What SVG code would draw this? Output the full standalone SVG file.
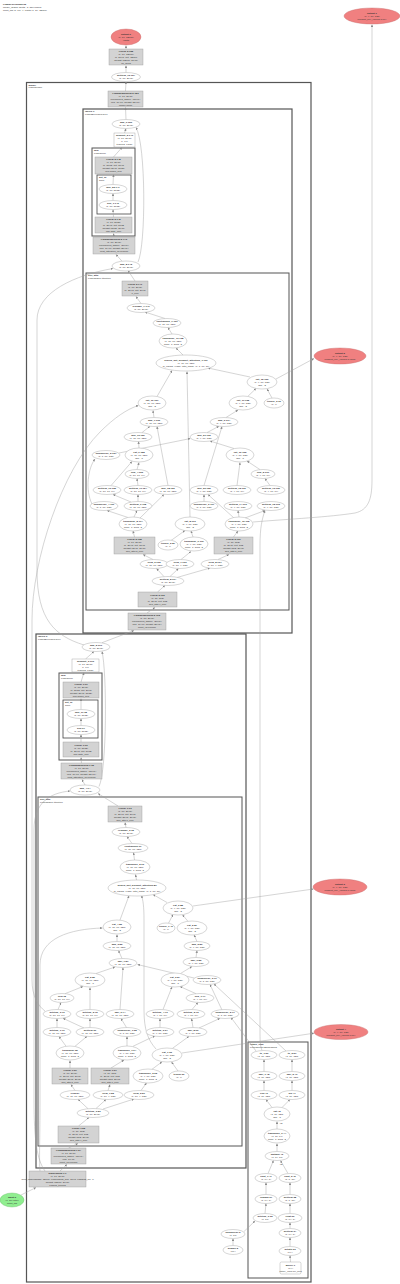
<svg xmlns="http://www.w3.org/2000/svg" width="400" height="1284" viewBox="0 0 400 1284">
<style>
.e{fill:#fff;stroke:#999;stroke-width:.4}
.bx{fill:#d3d3d3;stroke:#999;stroke-width:.4}
.wb{fill:#fff;stroke:#999;stroke-width:.4}
.so{fill:#f08080;stroke:#c87070;stroke-width:.4}
.gi{fill:#90ee90;stroke:#6cbf6c;stroke-width:.4}
.c1{fill:none;stroke:#555;stroke-width:1.2}
.c2{fill:none;stroke:#555;stroke-width:1}
.c3{fill:none;stroke:#444;stroke-width:.8}
.t{font-family:"Liberation Sans",Arial,sans-serif;font-size:2.5px;fill:#333;text-anchor:middle}
.tl{font-family:"Liberation Sans",Arial,sans-serif;font-size:2.5px;fill:#333}
.b{font-weight:bold}
.ed path{fill:none;stroke:#a0a0a0;stroke-width:.45;marker-end:url(#ah)}
</style>
<defs>
<marker id="ah" viewBox="0 0 6 6" refX="6" refY="3" markerWidth="2.4" markerHeight="2.4" markerUnits="userSpaceOnUse" orient="auto"><path d="M0,0L6,3L0,6z" fill="#888"/></marker>
</defs>
<rect width="400" height="1284" fill="#fff"/>
<g id="title"><text class="tl" x="3" y="4.5"><tspan class="b">LlamaForCausalLM</tspan><tspan x="3" dy="3">model_graph: depth=3, 151 nodes</tspan><tspan x="3" dy="3">input_ids (1, 16) → logits (1, 16, 32000)</tspan></text></g>

<g id="clusters">
<rect class="c1" x="26.5" y="82.5" width="284.5" height="1199.5"/>
<text class="tl" x="28.5" y="85.6"><tspan class="b">model</tspan><tspan x="28.5" dy="2.8">LlamaModel</tspan></text>
<rect class="c1" x="83" y="109" width="209" height="524"/>
<text class="tl" x="85" y="111.8"><tspan class="b">layers.1</tspan><tspan x="85" dy="2.8">LlamaDecoderLayer</tspan></text>
<rect class="c2" x="92" y="148" width="43" height="88"/>
<text class="tl" x="94" y="150.8"><tspan class="b">mlp</tspan><tspan x="94" dy="2.8">LlamaMLP</tspan></text>
<rect class="c3" x="97" y="175" width="34" height="39"/>
<text class="tl" x="99" y="177.8"><tspan class="b">act_fn</tspan><tspan x="99" dy="2.8">SiLU</tspan></text>
<rect class="c2" x="86" y="273" width="203" height="337"/>
<text class="tl" x="88" y="275.8"><tspan class="b">self_attn</tspan><tspan x="88" dy="2.8">LlamaSdpaAttention</tspan></text>
<rect class="c1" x="36" y="634" width="210" height="534"/>
<text class="tl" x="38" y="636.8"><tspan class="b">layers.0</tspan><tspan x="38" dy="2.8">LlamaDecoderLayer</tspan></text>
<rect class="c2" x="59" y="673" width="43" height="87"/>
<text class="tl" x="61" y="675.8"><tspan class="b">mlp</tspan><tspan x="61" dy="2.8">LlamaMLP</tspan></text>
<rect class="c3" x="63" y="700" width="35" height="38"/>
<text class="tl" x="65" y="702.8"><tspan class="b">act_fn</tspan><tspan x="65" dy="2.8">SiLU</tspan></text>
<rect class="c2" x="38" y="797" width="204" height="349"/>
<text class="tl" x="40" y="799.8"><tspan class="b">self_attn</tspan><tspan x="40" dy="2.8">LlamaSdpaAttention</tspan></text>
<rect class="c2" x="248" y="1042" width="60" height="236"/>
<text class="tl" x="250" y="1044.8"><tspan class="b">rotary_emb</tspan><tspan x="250" dy="2.8">LlamaRotaryEmbedding</tspan></text>
</g>

<g id="edges" class="ed">
<path d="M126 49L126 45.5"/>
<path d="M126 72.5L126 65.5"/>
<path d="M125.5 91L126 82"/>
<path d="M126 119.5L125.5 107.5"/>
<path d="M124.5 133L126 128.5"/>
<path d="M113.5 157L122 147.5"/>
<path d="M113 184.5L113.5 174.5"/>
<path d="M113 200.5L113 193.5"/>
<path d="M113.5 217L113 209.5"/>
<path d="M114 237L113.5 233.5"/>
<path d="M122 261.2L116 254.5"/>
<path d="M138 262C146 245,146 145,136 127.5"/>
<path d="M135 281L128 270.5"/>
<path d="M84 645C55 636,37 620,37 570L37 320C37 292,75 275,113 268.5"/>
<path d="M141 303.5L136 296.5"/>
<path d="M165 318.5L145 312"/>
<path d="M172 334L168 327.5"/>
<path d="M183 355L176 348"/>
<path d="M250 377L208 368"/>
<path d="M276 379L314 358.5"/>
<path d="M157 396.5L172 370.5"/>
<path d="M248 396.2L256 388.5"/>
<path d="M272 398L267 389"/>
<path d="M154 417.5L153 410.5"/>
<path d="M226 417.5L238 410"/>
<path d="M142 432.6L150 426.2"/>
<path d="M207 432.6L219 426.2"/>
<path d="M119 453L190.5 438.5"/>
<path d="M139 448L138.5 441.5"/>
<path d="M234 448.5L210 441"/>
<path d="M137 469.5L139 462.5"/>
<path d="M260 469.6L247 461"/>
<path d="M111 485.6L132 461.5"/>
<path d="M138 485.5L137 478.5"/>
<path d="M168 485.5L157 426.5"/>
<path d="M204 485.5L222 426.5"/>
<path d="M237 485.5L240 462.5"/>
<path d="M270 485.5L265 478.5"/>
<path d="M92 504C85 490,88 468,95 459"/>
<path d="M138 501.5L138 494.5"/>
<path d="M131 502L113 494.5"/>
<path d="M204 501.5L204 494.5"/>
<path d="M128 517.5L107 510.5"/>
<path d="M134 517L137 510.5"/>
<path d="M140 518L164 494.5"/>
<path d="M239 517L238 510.5"/>
<path d="M245 518L265 510.5"/>
<path d="M234 518L208 494.5"/>
<path d="M190 517L187 371.5"/>
<path d="M171 540.5L185 530.5"/>
<path d="M193 537L191 531"/>
<path d="M134.5 537L133 531"/>
<path d="M233.5 537L238 531"/>
<path d="M153 559.5L143 554.5"/>
<path d="M181 559.5L191 551.5"/>
<path d="M218 559.5L229 554.5"/>
<path d="M164 576.6L156.5 568.5"/>
<path d="M170 576.5L178.5 568.5"/>
<path d="M177 577.5L210 568"/>
<path d="M157.5 592L165 585.5"/>
<path d="M147 613L155 607.5"/>
<path d="M102 642.7L134 630.5"/>
<path d="M253 522C290 519,330 517,355 513C368 510,372 500,372 480L372 24.5"/>
<path d="M262 1050.5C260 1045,260 1040,260 1030L260 545C260 528,262 519,265 510.5"/>
<path d="M85.5 659L94 651.5"/>
<path d="M81 682L84 672.5"/>
<path d="M81 709.5L81 698.5"/>
<path d="M81 725.5L81 718.5"/>
<path d="M81 742L81 734.5"/>
<path d="M81.5 763L81 757.5"/>
<path d="M85 785L82 779.5"/>
<path d="M99 786.5C107 770,107 672,102 651.5"/>
<path d="M118 806L98 793.5"/>
<path d="M45 1171C37 1160,34 1140,34 1100L34 830C34 802,50 793,70 791"/>
<path d="M40 1171C39 1160,40 1140,40 1100L40 965C40 938,70 929,102.5 928"/>
<path d="M45 1011C38 1006,32 996,32 980L32 620C32 560,62 470,100 432C114 418,127 409,138.5 405.5"/>
<path d="M126 827.5L125 822.5"/>
<path d="M132 843.5L127 836.5"/>
<path d="M134.5 860L133.5 852.5"/>
<path d="M136.5 880L135.5 874.5"/>
<path d="M167 902.5L153 894.5"/>
<path d="M193 906L313.5 889"/>
<path d="M120 920L129 895.7"/>
<path d="M168.5 923.2L173 914.5"/>
<path d="M188 921.4L182.5 914.8"/>
<path d="M117 941.5L117 934.5"/>
<path d="M197 941.5L194 935"/>
<path d="M122 958.5L118.5 950.5"/>
<path d="M196 957.5L197 950.5"/>
<path d="M96 973.5L115 967"/>
<path d="M180.5 973.5L192 966.5"/>
<path d="M194 978L137.5 964.5"/>
<path d="M65 993.7L83 986.5"/>
<path d="M196 993.7L180 986.5"/>
<path d="M58 1009.5L61 1002.5"/>
<path d="M90 1009.5L90 987.5"/>
<path d="M120 1009.5L123 967.5"/>
<path d="M163 1009.5L172 987"/>
<path d="M192 1009.5L198 1002.5"/>
<path d="M222 1010L210 984.5"/>
<path d="M57 1027.5L57 1018.5"/>
<path d="M90 1027.5L90 1018.5"/>
<path d="M84 1028L63 1018.3"/>
<path d="M126.5 1027.5L121 1018.5"/>
<path d="M160 1027.5L160 1018.5"/>
<path d="M193 1027.5L191.5 1018.5"/>
<path d="M199 1028L220 1018.3"/>
<path d="M66 1046.2L59 1036.5"/>
<path d="M75 1046.3L87 1036.3"/>
<path d="M127 1046L127 1036.5"/>
<path d="M133 1046.3L155 1035.8"/>
<path d="M172.5 1048.3L189 1036.3"/>
<path d="M156 1049C148 1040,144 1030,144 1010L144 920C144 906,143 900,141.5 895.5"/>
<path d="M182 1053L314 1033.2"/>
<path d="M70 1068L70 1060.5"/>
<path d="M111 1068L124 1060"/>
<path d="M152 1069.3L162 1061.8"/>
<path d="M178 1071L171.5 1062"/>
<path d="M75 1090.5L71 1084.5"/>
<path d="M108 1090.5L110 1084.5"/>
<path d="M141 1090.5L146.5 1083"/>
<path d="M88 1108.7L78 1099.3"/>
<path d="M96 1108.5L106 1099.5"/>
<path d="M103 1109L134 1099"/>
<path d="M78.5 1126L89 1117.5"/>
<path d="M68.5 1148L78 1143.5"/>
<path d="M60 1171L67 1164.5"/>
<path d="M21 1195L36 1187.5"/>
<path d="M264 1071.5L264 1059.5"/>
<path d="M292 1071.5L292 1059.5"/>
<path d="M264 1090.5L264 1080.5"/>
<path d="M292 1090.5L292 1080.5"/>
<path d="M272 1107.5L266 1099.5"/>
<path d="M282 1107.5L290 1099.5"/>
<path d="M277 1129L277 1121.5"/>
<path d="M277 1151.5L277 1143.5"/>
<path d="M268 1173.5L273.5 1160.5"/>
<path d="M288 1173.5L280.5 1160.5"/>
<path d="M266 1194.5L266 1182.5"/>
<path d="M290 1194.5L290 1182.5"/>
<path d="M265 1213.5L266 1203.5"/>
<path d="M290 1213.5L290 1203.5"/>
<path d="M290 1228.5L290 1222.5"/>
<path d="M290 1246.5L290 1237.5"/>
<path d="M290.5 1262L290 1255.5"/>
<path d="M244 1231.5L255 1221"/>
<path d="M233 1245.5L233 1238.5"/>
<path d="M256 1051L231 1017.5"/>
<path d="M286 1051L214 984"/>
</g>
<g id="edge-labels">
<text class="t" x="281" y="1123.5">x2</text>
<text class="t" x="281" y="1164.5">x2</text>
</g>

<g id="o1"><ellipse class="so" cx="372" cy="16" rx="28" ry="8"/><text class="t" x="372" y="13.9"><tspan class="b">output 1</tspan><tspan x="372" dy="3">(1, 4, 16, 128)</tspan><tspan x="372" dy="3">present_key_values.1.key</tspan></text></g>
<g id="o0"><ellipse class="so" cx="126" cy="37" rx="15" ry="8"/><text class="t" x="126" y="34.9"><tspan class="b">output 0</tspan><tspan x="126" dy="3">(1, 16, 32000)</tspan><tspan x="126" dy="3">logits</tspan></text></g>
<g id="lm_head"><rect class="bx" x="109" y="49" width="34" height="16"/><text class="t" x="126" y="51.9"><tspan class="b">Linear 2.155</tspan><tspan x="126" dy="3">(1, 16, 32000)</tspan><tspan x="126" dy="3">in=2048, out=32000</tspan><tspan x="126" dy="3">weight (32000, 2048)</tspan><tspan x="126" dy="3">lm_head</tspan></text></g>
<g id="getitem16"><ellipse class="e" cx="126" cy="77" rx="14.5" ry="4.5"/><text class="t" x="126" y="76.4"><tspan class="b">getitem_16.154</tspan><tspan x="126" dy="3">(1, 16, 2048)</tspan></text></g>
<g id="norm"><rect class="bx" x="108" y="91" width="35" height="16"/><text class="t" x="125.5" y="93.9"><tspan class="b">LlamaRMSNorm 2.153</tspan><tspan x="125.5" dy="3">(1, 16, 2048)</tspan><tspan x="125.5" dy="3">normalized_shape=(2048,)</tspan><tspan x="125.5" dy="3">eps=1e-06, weight (2048,)</tspan><tspan x="125.5" dy="3">model.norm</tspan></text></g>

<g id="L1add0"><ellipse class="e" cx="126" cy="124" rx="14" ry="4.5"/><text class="t" x="126" y="123.4"><tspan class="b">add_9.150</tspan><tspan x="126" dy="3">(1, 16, 2048)</tspan></text></g>
<g id="L1drop"><rect class="wb" x="114" y="133" width="21" height="14"/><text class="t" x="124.5" y="136.4"><tspan class="b">dropout_5.149</tspan><tspan x="124.5" dy="3">(1, 16, 2048)</tspan><tspan x="124.5" dy="3">p=0.0</tspan><tspan x="124.5" dy="3">training=False</tspan></text></g>
<g id="L1down"><rect class="bx" x="95" y="157" width="37" height="17"/><text class="t" x="113.5" y="160.4"><tspan class="b">Linear 2.148</tspan><tspan x="113.5" dy="3">(1, 16, 2048)</tspan><tspan x="113.5" dy="3">in=5632, out=2048</tspan><tspan x="113.5" dy="3">weight (2048, 5632)</tspan><tspan x="113.5" dy="3">mlp.down_proj</tspan></text></g>
<g id="L1mul"><ellipse class="e" cx="113" cy="189" rx="14" ry="4.5"/><text class="t" x="113" y="188.4"><tspan class="b">mul_22.147</tspan><tspan x="113" dy="3">(1, 16, 5632)</tspan></text></g>
<g id="L1silu"><ellipse class="e" cx="113" cy="205" rx="14" ry="4.5"/><text class="t" x="113" y="204.4"><tspan class="b">silu_1.146</tspan><tspan x="113" dy="3">(1, 16, 5632)</tspan></text></g>
<g id="L1gate"><rect class="bx" x="95" y="217" width="37" height="16"/><text class="t" x="113.5" y="219.9"><tspan class="b">Linear 2.145</tspan><tspan x="113.5" dy="3">(1, 16, 5632)</tspan><tspan x="113.5" dy="3">in=2048, out=5632</tspan><tspan x="113.5" dy="3">weight (5632, 2048)</tspan><tspan x="113.5" dy="3">mlp.gate_proj</tspan></text></g>
<g id="L1ln2"><rect class="bx" x="93" y="237" width="42" height="17"/><text class="t" x="114" y="240.4"><tspan class="b">LlamaRMSNorm 2.143</tspan><tspan x="114" dy="3">(1, 16, 2048)</tspan><tspan x="114" dy="3">normalized_shape=(2048,)</tspan><tspan x="114" dy="3">eps=1e-06, weight (2048,)</tspan><tspan x="114" dy="3">post_attention_layernorm</tspan></text></g>
<g id="L1add1"><ellipse class="e" cx="126" cy="266" rx="14" ry="5"/><text class="t" x="126" y="265.4"><tspan class="b">add_8.142</tspan><tspan x="126" dy="3">(1, 16, 2048)</tspan></text></g>

<g id="A1"><rect class="bx" x="122" y="281" width="26" height="15"/><text class="t" x="135" y="284.9"><tspan class="b">Linear 2.141</tspan><tspan x="135" dy="3">(1, 16, 2048)</tspan><tspan x="135" dy="3">in=2048, out=2048</tspan><tspan x="135" dy="3">o_proj</tspan></text></g>
<g id="A2"><ellipse class="e" cx="141" cy="308" rx="14" ry="4.5"/><text class="t" x="141" y="307.4"><tspan class="b">reshape_7.140</tspan><tspan x="141" dy="3">(1, 16, 2048)</tspan></text></g>
<g id="A3"><ellipse class="e" cx="167" cy="323" rx="14" ry="4.5"/><text class="t" x="167" y="322.4"><tspan class="b">contiguous_1.139</tspan><tspan x="167" dy="3">(1, 16, 16, 128)</tspan></text></g>
<g id="A4"><ellipse class="e" cx="173" cy="341" rx="14" ry="7"/><text class="t" x="173" y="338.9"><tspan class="b">transpose_11.138</tspan><tspan x="173" dy="3">(1, 16, 16, 128)</tspan><tspan x="173" dy="3">dim0=1, dim1=2</tspan></text></g>
<g id="A5"><ellipse class="e" cx="186" cy="363" rx="30" ry="8"/><text class="t" x="186" y="360.9"><tspan class="b">scaled_dot_product_attention_1.137</tspan><tspan x="186" dy="3">(1, 16, 16, 128)</tspan><tspan x="186" dy="3">is_causal=False, attn_mask=(1, 1, 16, 16)</tspan></text></g>
<g id="A6"><ellipse class="e" cx="262" cy="382" rx="15" ry="7"/><text class="t" x="262" y="379.9"><tspan class="b">cat_12.136</tspan><tspan x="262" dy="3">(1, 4, 16, 128)</tspan><tspan x="262" dy="3">dim=-2</tspan></text></g>
<g id="A7"><ellipse class="e" cx="152" cy="403" rx="14" ry="7"/><text class="t" x="152" y="400.9"><tspan class="b">cat_10.131</tspan><tspan x="152" dy="3">(1, 16, 16, 128)</tspan><tspan x="152" dy="3">dim=-2</tspan></text></g>
<g id="A8"><ellipse class="e" cx="243" cy="403" rx="14" ry="7"/><text class="t" x="243" y="400.9"><tspan class="b">cat_11.135</tspan><tspan x="243" dy="3">(1, 4, 16, 128)</tspan><tspan x="243" dy="3">dim=-2</tspan></text></g>
<g id="A9"><ellipse class="e" cx="274" cy="403" rx="10" ry="5"/><text class="t" x="274" y="402.4"><tspan class="b">tensor_3.96</tspan><tspan x="274" dy="3">(1, 4)</tspan></text></g>
<g id="A10"><ellipse class="e" cx="154" cy="422" rx="14" ry="4.5"/><text class="t" x="154" y="421.4"><tspan class="b">add_7.130</tspan><tspan x="154" dy="3">(1, 16, 16, 128)</tspan></text></g>
<g id="A11"><ellipse class="e" cx="224" cy="422" rx="14" ry="4.5"/><text class="t" x="224" y="421.4"><tspan class="b">add_6.134</tspan><tspan x="224" dy="3">(1, 4, 16, 128)</tspan></text></g>
<g id="A12"><ellipse class="e" cx="138" cy="437" rx="14" ry="4.5"/><text class="t" x="138" y="436.4"><tspan class="b">mul_19.129</tspan><tspan x="138" dy="3">(1, 16, 16, 128)</tspan></text></g>
<g id="A13"><ellipse class="e" cx="204" cy="437" rx="14" ry="4.5"/><text class="t" x="204" y="436.4"><tspan class="b">mul_21.133</tspan><tspan x="204" dy="3">(1, 4, 16, 128)</tspan></text></g>
<g id="A14"><ellipse class="e" cx="106" cy="455" rx="14" ry="4.5"/><text class="t" x="106" y="454.4"><tspan class="b">unsqueeze_5.127</tspan><tspan x="106" dy="3">(1, 1, 16, 128)</tspan></text></g>
<g id="A15"><ellipse class="e" cx="139" cy="455" rx="14" ry="7"/><text class="t" x="139" y="452.9"><tspan class="b">cat_9.128</tspan><tspan x="139" dy="3">(1, 16, 16, 128)</tspan><tspan x="139" dy="3">dim=-1</tspan></text></g>
<g id="A16"><ellipse class="e" cx="240" cy="455" rx="14" ry="7"/><text class="t" x="240" y="452.9"><tspan class="b">cat_10.132</tspan><tspan x="240" dy="3">(1, 4, 16, 128)</tspan><tspan x="240" dy="3">dim=-1</tspan></text></g>
<g id="A17"><ellipse class="e" cx="137" cy="474" rx="12" ry="4.5"/><text class="t" x="137" y="473.4"><tspan class="b">neg_4.126</tspan><tspan x="137" dy="3">(1, 16, 16, 64)</tspan></text></g>
<g id="A18"><ellipse class="e" cx="263" cy="474" rx="12" ry="4.5"/><text class="t" x="263" y="473.4"><tspan class="b">neg_5.131</tspan><tspan x="263" dy="3">(1, 4, 16, 64)</tspan></text></g>
<g id="A19"><ellipse class="e" cx="107" cy="490" rx="14" ry="4.5"/><text class="t" x="107" y="489.4"><tspan class="b">getitem_10.125</tspan><tspan x="107" dy="3">(1, 16, 16, 64)</tspan></text></g>
<g id="A20"><ellipse class="e" cx="138" cy="490" rx="14" ry="4.5"/><text class="t" x="138" y="489.4"><tspan class="b">getitem_11.124</tspan><tspan x="138" dy="3">(1, 16, 16, 64)</tspan></text></g>
<g id="A21"><ellipse class="e" cx="168" cy="490" rx="14" ry="4.5"/><text class="t" x="168" y="489.4"><tspan class="b">mul_18.123</tspan><tspan x="168" dy="3">(1, 16, 16, 128)</tspan></text></g>
<g id="A22"><ellipse class="e" cx="204" cy="490" rx="14" ry="4.5"/><text class="t" x="204" y="489.4"><tspan class="b">mul_20.122</tspan><tspan x="204" dy="3">(1, 4, 16, 128)</tspan></text></g>
<g id="A23"><ellipse class="e" cx="237" cy="490" rx="14" ry="4.5"/><text class="t" x="237" y="489.4"><tspan class="b">getitem_12.121</tspan><tspan x="237" dy="3">(1, 4, 16, 64)</tspan></text></g>
<g id="A24"><ellipse class="e" cx="271" cy="490" rx="14" ry="4.5"/><text class="t" x="271" y="489.4"><tspan class="b">getitem_13.120</tspan><tspan x="271" dy="3">(1, 4, 16, 64)</tspan></text></g>
<g id="A25"><ellipse class="e" cx="104" cy="506" rx="14" ry="4.5"/><text class="t" x="104" y="505.4"><tspan class="b">unsqueeze_4.119</tspan><tspan x="104" dy="3">(1, 1, 16, 128)</tspan></text></g>
<g id="A26"><ellipse class="e" cx="138" cy="506" rx="14" ry="4.5"/><text class="t" x="138" y="505.4"><tspan class="b">getitem_9.118</tspan><tspan x="138" dy="3">(1, 16, 16, 128)</tspan></text></g>
<g id="A27"><ellipse class="e" cx="204" cy="506" rx="14" ry="4.5"/><text class="t" x="204" y="505.4"><tspan class="b">unsqueeze_6.117</tspan><tspan x="204" dy="3">(1, 1, 16, 128)</tspan></text></g>
<g id="A28"><ellipse class="e" cx="238" cy="506" rx="14" ry="4.5"/><text class="t" x="238" y="505.4"><tspan class="b">getitem_14.116</tspan><tspan x="238" dy="3">(1, 4, 16, 128)</tspan></text></g>
<g id="A29"><ellipse class="e" cx="271" cy="506" rx="14" ry="4.5"/><text class="t" x="271" y="505.4"><tspan class="b">getitem_15.115</tspan><tspan x="271" dy="3">(1, 4, 16, 128)</tspan></text></g>
<g id="A30"><ellipse class="e" cx="133" cy="524" rx="14" ry="7"/><text class="t" x="133" y="521.9"><tspan class="b">transpose_8.114</tspan><tspan x="133" dy="3">(1, 16, 16, 128)</tspan><tspan x="133" dy="3">dim0=1, dim1=2</tspan></text></g>
<g id="A31"><ellipse class="e" cx="190" cy="524" rx="15" ry="7"/><text class="t" x="190" y="521.9"><tspan class="b">cat_8.113</tspan><tspan x="190" dy="3">(1, 4, 16, 128)</tspan><tspan x="190" dy="3">dim=-2</tspan></text></g>
<g id="A32"><ellipse class="e" cx="239" cy="524" rx="14" ry="7"/><text class="t" x="239" y="521.9"><tspan class="b">transpose_10.112</tspan><tspan x="239" dy="3">(1, 4, 16, 128)</tspan><tspan x="239" dy="3">dim0=1, dim1=2</tspan></text></g>
<g id="A33"><rect class="bx" x="114" y="537" width="41" height="17"/><text class="t" x="134.5" y="540.4"><tspan class="b">Linear 2.108</tspan><tspan x="134.5" dy="3">(1, 16, 2048)</tspan><tspan x="134.5" dy="3">in=2048, out=2048</tspan><tspan x="134.5" dy="3">weight (2048, 2048)</tspan><tspan x="134.5" dy="3">self_attn.q_proj</tspan></text></g>
<g id="A34"><ellipse class="e" cx="168" cy="545" rx="10" ry="5"/><text class="t" x="168" y="544.4"><tspan class="b">tensor_2.87</tspan><tspan x="168" dy="3">(1, 4)</tspan></text></g>
<g id="A35"><ellipse class="e" cx="194" cy="544" rx="14" ry="7"/><text class="t" x="194" y="541.9"><tspan class="b">transpose_9.110</tspan><tspan x="194" dy="3">(1, 4, 16, 128)</tspan><tspan x="194" dy="3">dim0=1, dim1=2</tspan></text></g>
<g id="A36"><rect class="bx" x="214" y="537" width="39" height="17"/><text class="t" x="233.5" y="540.4"><tspan class="b">Linear 2.109</tspan><tspan x="233.5" dy="3">(1, 16, 512)</tspan><tspan x="233.5" dy="3">in=2048, out=512</tspan><tspan x="233.5" dy="3">weight (512, 2048)</tspan><tspan x="233.5" dy="3">self_attn.k_proj</tspan></text></g>
<g id="A37"><ellipse class="e" cx="154" cy="564" rx="14" ry="4.5"/><text class="t" x="154" y="563.4"><tspan class="b">view_6.105</tspan><tspan x="154" dy="3">(1, 16, 16, 128)</tspan></text></g>
<g id="A38"><ellipse class="e" cx="180" cy="564" rx="14" ry="4.5"/><text class="t" x="180" y="563.4"><tspan class="b">view_7.106</tspan><tspan x="180" dy="3">(1, 16, 4, 128)</tspan></text></g>
<g id="A39"><ellipse class="e" cx="215" cy="564" rx="14" ry="4.5"/><text class="t" x="215" y="563.4"><tspan class="b">view_8.107</tspan><tspan x="215" dy="3">(1, 16, 4, 128)</tspan></text></g>
<g id="A40"><ellipse class="e" cx="168" cy="581" rx="16" ry="4.5"/><text class="t" x="168" y="580.4"><tspan class="b">getitem_8.104</tspan><tspan x="168" dy="3">(1, 16, 2048)</tspan></text></g>
<g id="A41"><rect class="bx" x="138" y="592" width="39" height="15"/><text class="t" x="157.5" y="595.9"><tspan class="b">Linear 2.103</tspan><tspan x="157.5" dy="3">(1, 16, 512)</tspan><tspan x="157.5" dy="3">in=2048, out=512</tspan><tspan x="157.5" dy="3">self_attn.v_proj</tspan></text></g>
<g id="L1ln1"><rect class="bx" x="128" y="613" width="38" height="17"/><text class="t" x="147" y="616.4"><tspan class="b">LlamaRMSNorm 2.102</tspan><tspan x="147" dy="3">(1, 16, 2048)</tspan><tspan x="147" dy="3">normalized_shape=(2048,)</tspan><tspan x="147" dy="3">eps=1e-06, weight (2048,)</tspan><tspan x="147" dy="3">input_layernorm</tspan></text></g>

<g id="o2"><ellipse class="so" cx="340" cy="356" rx="26" ry="8"/><text class="t" x="340" y="353.9"><tspan class="b">output 2</tspan><tspan x="340" dy="3">(1, 4, 16, 128)</tspan><tspan x="340" dy="3">present_key_values.1.value</tspan></text></g>
<g id="o3"><ellipse class="so" cx="340" cy="887" rx="27" ry="8"/><text class="t" x="340" y="884.9"><tspan class="b">output 3</tspan><tspan x="340" dy="3">(1, 4, 16, 128)</tspan><tspan x="340" dy="3">present_key_values.0.value</tspan></text></g>
<g id="o4"><ellipse class="so" cx="341" cy="1032" rx="27" ry="7.5"/><text class="t" x="341" y="1029.9"><tspan class="b">output 4</tspan><tspan x="341" dy="3">(1, 4, 16, 128)</tspan><tspan x="341" dy="3">present_key_values.0.key</tspan></text></g>

<g id="L0add0"><ellipse class="e" cx="96" cy="647" rx="14" ry="4.5"/><text class="t" x="96" y="646.4"><tspan class="b">add_5.101</tspan><tspan x="96" dy="3">(1, 16, 2048)</tspan></text></g>
<g id="L0drop"><rect class="wb" x="72" y="659" width="27" height="13"/><text class="t" x="85.5" y="661.9"><tspan class="b">dropout_3.100</tspan><tspan x="85.5" dy="3">(1, 16, 2048)</tspan><tspan x="85.5" dy="3">p=0.0</tspan><tspan x="85.5" dy="3">training=False</tspan></text></g>
<g id="L0down"><rect class="bx" x="63" y="682" width="36" height="16"/><text class="t" x="81" y="684.9"><tspan class="b">Linear 1.99</tspan><tspan x="81" dy="3">(1, 16, 2048)</tspan><tspan x="81" dy="3">in=5632, out=2048</tspan><tspan x="81" dy="3">weight (2048, 5632)</tspan><tspan x="81" dy="3">mlp.down_proj</tspan></text></g>
<g id="L0mul"><ellipse class="e" cx="81" cy="714" rx="14" ry="4.5"/><text class="t" x="81" y="713.4"><tspan class="b">mul_11.98</tspan><tspan x="81" dy="3">(1, 16, 5632)</tspan></text></g>
<g id="L0silu"><ellipse class="e" cx="81" cy="730" rx="14" ry="4.5"/><text class="t" x="81" y="729.4"><tspan class="b">silu.97</tspan><tspan x="81" dy="3">(1, 16, 5632)</tspan></text></g>
<g id="L0gate"><rect class="bx" x="63" y="742" width="36" height="15"/><text class="t" x="81" y="745.9"><tspan class="b">Linear 1.96</tspan><tspan x="81" dy="3">(1, 16, 5632)</tspan><tspan x="81" dy="3">in=2048, out=5632</tspan><tspan x="81" dy="3">mlp.gate_proj</tspan></text></g>
<g id="L0ln2"><rect class="bx" x="61" y="763" width="41" height="16"/><text class="t" x="81.5" y="765.9"><tspan class="b">LlamaRMSNorm 1.95</tspan><tspan x="81.5" dy="3">(1, 16, 2048)</tspan><tspan x="81.5" dy="3">normalized_shape=(2048,)</tspan><tspan x="81.5" dy="3">eps=1e-06, weight (2048,)</tspan><tspan x="81.5" dy="3">post_attention_layernorm</tspan></text></g>
<g id="L0add1"><ellipse class="e" cx="85" cy="790" rx="15" ry="5"/><text class="t" x="85" y="789.4"><tspan class="b">add_4.94</tspan><tspan x="85" dy="3">(1, 16, 2048)</tspan></text></g>

<g id="B1"><rect class="bx" x="108" y="806" width="34" height="16"/><text class="t" x="125" y="808.9"><tspan class="b">Linear 1.93</tspan><tspan x="125" dy="3">(1, 16, 2048)</tspan><tspan x="125" dy="3">in=2048, out=2048</tspan><tspan x="125" dy="3">weight (2048, 2048)</tspan><tspan x="125" dy="3">self_attn.o_proj</tspan></text></g>
<g id="B2"><ellipse class="e" cx="126" cy="832" rx="14" ry="4.5"/><text class="t" x="126" y="831.4"><tspan class="b">reshape_3.92</tspan><tspan x="126" dy="3">(1, 16, 2048)</tspan></text></g>
<g id="B3"><ellipse class="e" cx="133" cy="848" rx="15" ry="4.5"/><text class="t" x="133" y="847.4"><tspan class="b">contiguous.91</tspan><tspan x="133" dy="3">(1, 16, 16, 128)</tspan></text></g>
<g id="B4"><ellipse class="e" cx="135" cy="867" rx="15" ry="7"/><text class="t" x="135" y="864.9"><tspan class="b">transpose_5.90</tspan><tspan x="135" dy="3">(1, 16, 16, 128)</tspan><tspan x="135" dy="3">dim0=1, dim1=2</tspan></text></g>
<g id="B5"><ellipse class="e" cx="137" cy="888" rx="29" ry="8"/><text class="t" x="137" y="885.9"><tspan class="b">scaled_dot_product_attention.89</tspan><tspan x="137" dy="3">(1, 16, 16, 128)</tspan><tspan x="137" dy="3">is_causal=False, attn_mask=(1, 1, 16, 16)</tspan></text></g>
<g id="B6"><ellipse class="e" cx="178" cy="908" rx="15" ry="7"/><text class="t" x="178" y="905.9"><tspan class="b">cat_6.88</tspan><tspan x="178" dy="3">(1, 4, 16, 128)</tspan><tspan x="178" dy="3">dim=-2</tspan></text></g>
<g id="B7"><ellipse class="e" cx="117" cy="927" rx="14" ry="7"/><text class="t" x="117" y="924.9"><tspan class="b">cat_4.83</tspan><tspan x="117" dy="3">(1, 16, 16, 128)</tspan><tspan x="117" dy="3">dim=-2</tspan></text></g>
<g id="B8"><ellipse class="e" cx="166" cy="928" rx="9" ry="5"/><text class="t" x="166" y="927.4"><tspan class="b">tensor_1.40</tspan><tspan x="166" dy="3">(1, 4)</tspan></text></g>
<g id="B9"><ellipse class="e" cx="192" cy="928" rx="15" ry="7"/><text class="t" x="192" y="925.9"><tspan class="b">cat_5.87</tspan><tspan x="192" dy="3">(1, 4, 16, 128)</tspan><tspan x="192" dy="3">dim=-2</tspan></text></g>
<g id="B10"><ellipse class="e" cx="117" cy="946" rx="14" ry="4.5"/><text class="t" x="117" y="945.4"><tspan class="b">add_3.82</tspan><tspan x="117" dy="3">(1, 16, 16, 128)</tspan></text></g>
<g id="B11"><ellipse class="e" cx="197" cy="946" rx="13" ry="4.5"/><text class="t" x="197" y="945.4"><tspan class="b">add_2.86</tspan><tspan x="197" dy="3">(1, 4, 16, 128)</tspan></text></g>
<g id="B12"><ellipse class="e" cx="123" cy="963" rx="14" ry="4.5"/><text class="t" x="123" y="962.4"><tspan class="b">mul_7.81</tspan><tspan x="123" dy="3">(1, 16, 16, 128)</tspan></text></g>
<g id="B13"><ellipse class="e" cx="196" cy="962" rx="13" ry="4.5"/><text class="t" x="196" y="961.4"><tspan class="b">mul_9.85</tspan><tspan x="196" dy="3">(1, 4, 16, 128)</tspan></text></g>
<g id="B14"><ellipse class="e" cx="90" cy="980" rx="15" ry="7"/><text class="t" x="90" y="977.9"><tspan class="b">cat_2.80</tspan><tspan x="90" dy="3">(1, 16, 16, 128)</tspan><tspan x="90" dy="3">dim=-1</tspan></text></g>
<g id="B15"><ellipse class="e" cx="175" cy="980" rx="14" ry="7"/><text class="t" x="175" y="977.9"><tspan class="b">cat_3.84</tspan><tspan x="175" dy="3">(1, 4, 16, 128)</tspan><tspan x="175" dy="3">dim=-1</tspan></text></g>
<g id="B16"><ellipse class="e" cx="207" cy="980" rx="14" ry="4.5"/><text class="t" x="207" y="979.4"><tspan class="b">unsqueeze_3.79</tspan><tspan x="207" dy="3">(1, 1, 16, 128)</tspan></text></g>
<g id="B17"><ellipse class="e" cx="62" cy="998" rx="12" ry="4.5"/><text class="t" x="62" y="997.4"><tspan class="b">neg.78</tspan><tspan x="62" dy="3">(1, 16, 16, 64)</tspan></text></g>
<g id="B18"><ellipse class="e" cx="200" cy="998" rx="14" ry="4.5"/><text class="t" x="200" y="997.4"><tspan class="b">neg_1.77</tspan><tspan x="200" dy="3">(1, 4, 16, 64)</tspan></text></g>
<g id="B19"><ellipse class="e" cx="57" cy="1014" rx="14" ry="4.5"/><text class="t" x="57" y="1013.4"><tspan class="b">getitem_3.76</tspan><tspan x="57" dy="3">(1, 16, 16, 64)</tspan></text></g>
<g id="B20"><ellipse class="e" cx="90" cy="1014" rx="14" ry="4.5"/><text class="t" x="90" y="1013.4"><tspan class="b">getitem_2.75</tspan><tspan x="90" dy="3">(1, 16, 16, 64)</tspan></text></g>
<g id="B21"><ellipse class="e" cx="120" cy="1014" rx="14" ry="4.5"/><text class="t" x="120" y="1013.4"><tspan class="b">mul_6.74</tspan><tspan x="120" dy="3">(1, 16, 16, 128)</tspan></text></g>
<g id="B22"><ellipse class="e" cx="160" cy="1014" rx="14" ry="4.5"/><text class="t" x="160" y="1013.4"><tspan class="b">getitem_4.73</tspan><tspan x="160" dy="3">(1, 4, 16, 64)</tspan></text></g>
<g id="B23"><ellipse class="e" cx="191" cy="1014" rx="14" ry="4.5"/><text class="t" x="191" y="1013.4"><tspan class="b">getitem_5.72</tspan><tspan x="191" dy="3">(1, 4, 16, 64)</tspan></text></g>
<g id="B24"><ellipse class="e" cx="225" cy="1014" rx="14" ry="4.5"/><text class="t" x="225" y="1013.4"><tspan class="b">unsqueeze_2.71</tspan><tspan x="225" dy="3">(1, 1, 16, 128)</tspan></text></g>
<g id="B25"><ellipse class="e" cx="57" cy="1032" rx="14" ry="4.5"/><text class="t" x="57" y="1031.4"><tspan class="b">getitem_1.70</tspan><tspan x="57" dy="3">(1, 16, 16, 128)</tspan></text></g>
<g id="B26"><ellipse class="e" cx="90" cy="1032" rx="14" ry="4.5"/><text class="t" x="90" y="1031.4"><tspan class="b">getitem.69</tspan><tspan x="90" dy="3">(1, 16, 16, 128)</tspan></text></g>
<g id="B27"><ellipse class="e" cx="127" cy="1032" rx="14" ry="4.5"/><text class="t" x="127" y="1031.4"><tspan class="b">unsqueeze_1.68</tspan><tspan x="127" dy="3">(1, 1, 16, 128)</tspan></text></g>
<g id="B28"><ellipse class="e" cx="160" cy="1032" rx="14" ry="4.5"/><text class="t" x="160" y="1031.4"><tspan class="b">getitem_6.67</tspan><tspan x="160" dy="3">(1, 4, 16, 128)</tspan></text></g>
<g id="B29"><ellipse class="e" cx="193" cy="1032" rx="14" ry="4.5"/><text class="t" x="193" y="1031.4"><tspan class="b">mul_8.66</tspan><tspan x="193" dy="3">(1, 4, 16, 128)</tspan></text></g>
<g id="B30"><ellipse class="e" cx="70" cy="1053" rx="14" ry="7"/><text class="t" x="70" y="1050.9"><tspan class="b">transpose.65</tspan><tspan x="70" dy="3">(1, 16, 16, 128)</tspan><tspan x="70" dy="3">dim0=1, dim1=2</tspan></text></g>
<g id="B31"><ellipse class="e" cx="127" cy="1053" rx="14" ry="7"/><text class="t" x="127" y="1050.9"><tspan class="b">transpose_1.64</tspan><tspan x="127" dy="3">(1, 4, 16, 128)</tspan><tspan x="127" dy="3">dim0=1, dim1=2</tspan></text></g>
<g id="B32"><ellipse class="e" cx="167" cy="1055" rx="15" ry="7"/><text class="t" x="167" y="1052.9"><tspan class="b">cat_1.63</tspan><tspan x="167" dy="3">(1, 4, 16, 128)</tspan><tspan x="167" dy="3">dim=-2</tspan></text></g>
<g id="B33"><rect class="bx" x="52" y="1068" width="36" height="16"/><text class="t" x="70" y="1070.9"><tspan class="b">Linear 1.60</tspan><tspan x="70" dy="3">(1, 16, 2048)</tspan><tspan x="70" dy="3">in=2048, out=2048</tspan><tspan x="70" dy="3">weight (2048, 2048)</tspan><tspan x="70" dy="3">self_attn.q_proj</tspan></text></g>
<g id="B34"><rect class="bx" x="91" y="1068" width="38" height="16"/><text class="t" x="110" y="1070.9"><tspan class="b">Linear 1.61</tspan><tspan x="110" dy="3">(1, 16, 512)</tspan><tspan x="110" dy="3">in=2048, out=512</tspan><tspan x="110" dy="3">weight (512, 2048)</tspan><tspan x="110" dy="3">self_attn.k_proj</tspan></text></g>
<g id="B35"><ellipse class="e" cx="148" cy="1076" rx="15" ry="7"/><text class="t" x="148" y="1073.9"><tspan class="b">transpose_2.62</tspan><tspan x="148" dy="3">(1, 4, 16, 128)</tspan><tspan x="148" dy="3">dim0=1, dim1=2</tspan></text></g>
<g id="B36"><ellipse class="e" cx="179" cy="1076" rx="10" ry="5"/><text class="t" x="179" y="1075.4"><tspan class="b">tensor.39</tspan><tspan x="179" dy="3">(1, 4)</tspan></text></g>
<g id="B37"><ellipse class="e" cx="75" cy="1095" rx="15" ry="4.5"/><text class="t" x="75" y="1094.4"><tspan class="b">view.57</tspan><tspan x="75" dy="3">(1, 16, 16, 128)</tspan></text></g>
<g id="B38"><ellipse class="e" cx="108" cy="1095" rx="15" ry="4.5"/><text class="t" x="108" y="1094.4"><tspan class="b">view_1.58</tspan><tspan x="108" dy="3">(1, 16, 4, 128)</tspan></text></g>
<g id="B39"><ellipse class="e" cx="139" cy="1095" rx="15" ry="4.5"/><text class="t" x="139" y="1094.4"><tspan class="b">view_2.59</tspan><tspan x="139" dy="3">(1, 16, 4, 128)</tspan></text></g>
<g id="B40"><ellipse class="e" cx="93" cy="1113" rx="16" ry="4.5"/><text class="t" x="93" y="1112.4"><tspan class="b">getitem_0.56</tspan><tspan x="93" dy="3">(1, 16, 2048)</tspan></text></g>
<g id="B41"><rect class="bx" x="58" y="1126" width="41" height="17"/><text class="t" x="78.5" y="1129.4"><tspan class="b">Linear 1.55</tspan><tspan x="78.5" dy="3">(1, 16, 512)</tspan><tspan x="78.5" dy="3">in=2048, out=512</tspan><tspan x="78.5" dy="3">weight (512, 2048)</tspan><tspan x="78.5" dy="3">self_attn.v_proj</tspan></text></g>
<g id="L0ln1"><rect class="bx" x="51" y="1148" width="35" height="16"/><text class="t" x="68.5" y="1150.9"><tspan class="b">LlamaRMSNorm 1.54</tspan><tspan x="68.5" dy="3">(1, 16, 2048)</tspan><tspan x="68.5" dy="3">normalized_shape=(2048,)</tspan><tspan x="68.5" dy="3">eps=1e-06</tspan><tspan x="68.5" dy="3">input_layernorm</tspan></text></g>
<g id="embed"><rect class="bx" x="29" y="1171" width="57" height="16"/><text class="t" x="57.5" y="1173.9"><tspan class="b">Embedding 1.1</tspan><tspan x="57.5" dy="3">(1, 16, 2048)</tspan><tspan x="57.5" dy="3">num_embeddings=32000, embedding_dim=2048, padding_idx=0</tspan><tspan x="57.5" dy="3">weight (32000, 2048)</tspan><tspan x="57.5" dy="3">embed_tokens</tspan></text></g>
<g id="in0"><ellipse class="gi" cx="12" cy="1200" rx="12" ry="7"/><text class="t" x="12" y="1197.9"><tspan class="b">input 0</tspan><tspan x="12" dy="3">(1, 16) int64</tspan><tspan x="12" dy="3">input_ids</tspan></text></g>

<g id="R1"><ellipse class="e" cx="264" cy="1055" rx="13" ry="4.5"/><text class="t" x="264" y="1054.4"><tspan class="b">to_1.50</tspan><tspan x="264" dy="3">(1, 16, 128)</tspan></text></g>
<g id="R2"><ellipse class="e" cx="292" cy="1055" rx="13" ry="4.5"/><text class="t" x="292" y="1054.4"><tspan class="b">to_2.51</tspan><tspan x="292" dy="3">(1, 16, 128)</tspan></text></g>
<g id="R3"><ellipse class="e" cx="264" cy="1076" rx="13" ry="4.5"/><text class="t" x="264" y="1075.4"><tspan class="b">mul_1.48</tspan><tspan x="264" dy="3">(1, 16, 128)</tspan></text></g>
<g id="R4"><ellipse class="e" cx="292" cy="1076" rx="13" ry="4.5"/><text class="t" x="292" y="1075.4"><tspan class="b">mul_2.49</tspan><tspan x="292" dy="3">(1, 16, 128)</tspan></text></g>
<g id="R5"><ellipse class="e" cx="264" cy="1095" rx="13" ry="4.5"/><text class="t" x="264" y="1094.4"><tspan class="b">cos.46</tspan><tspan x="264" dy="3">(1, 16, 128)</tspan></text></g>
<g id="R6"><ellipse class="e" cx="292" cy="1095" rx="13" ry="4.5"/><text class="t" x="292" y="1094.4"><tspan class="b">sin.47</tspan><tspan x="292" dy="3">(1, 16, 128)</tspan></text></g>
<g id="R7"><ellipse class="e" cx="277" cy="1114" rx="13" ry="7"/><text class="t" x="277" y="1111.9"><tspan class="b">cat.45</tspan><tspan x="277" dy="3">(1, 16, 128)</tspan><tspan x="277" dy="3">dim=-1</tspan></text></g>
<g id="R8"><ellipse class="e" cx="277" cy="1136" rx="13" ry="7"/><text class="t" x="277" y="1133.9"><tspan class="b">transpose_0.44</tspan><tspan x="277" dy="3">(1, 16, 64)</tspan><tspan x="277" dy="3">dim0=1, dim1=2</tspan></text></g>
<g id="R9"><ellipse class="e" cx="277" cy="1156" rx="12" ry="4.5"/><text class="t" x="277" y="1155.4"><tspan class="b">matmul.43</tspan><tspan x="277" dy="3">(1, 64, 16)</tspan></text></g>
<g id="R10"><ellipse class="e" cx="266" cy="1178" rx="11" ry="4.5"/><text class="t" x="266" y="1177.4"><tspan class="b">float_1.41</tspan><tspan x="266" dy="3">(1, 64, 1)</tspan></text></g>
<g id="R11"><ellipse class="e" cx="290" cy="1178" rx="11" ry="4.5"/><text class="t" x="290" y="1177.4"><tspan class="b">float_2.42</tspan><tspan x="290" dy="3">(1, 1, 16)</tspan></text></g>
<g id="R12"><ellipse class="e" cx="266" cy="1199" rx="11" ry="4.5"/><text class="t" x="266" y="1198.4"><tspan class="b">expand.37</tspan><tspan x="266" dy="3">(1, 64, 1)</tspan></text></g>
<g id="R13"><ellipse class="e" cx="290" cy="1199" rx="11" ry="4.5"/><text class="t" x="290" y="1198.4"><tspan class="b">getitem.38</tspan><tspan x="290" dy="3">(1, 1, 16)</tspan></text></g>
<g id="R14"><ellipse class="e" cx="265" cy="1218" rx="12" ry="4.5"/><text class="t" x="265" y="1217.4"><tspan class="b">getitem_0.35</tspan><tspan x="265" dy="3">(1, 16)</tspan></text></g>
<g id="R15"><ellipse class="e" cx="290" cy="1218" rx="12" ry="4.5"/><text class="t" x="290" y="1217.4"><tspan class="b">float.36</tspan><tspan x="290" dy="3">(1, 64, 1)</tspan></text></g>
<g id="R16"><ellipse class="e" cx="290" cy="1233" rx="11" ry="4.5"/><text class="t" x="290" y="1232.4"><tspan class="b">getitem.34</tspan><tspan x="290" dy="3">(1, 64, 1)</tspan></text></g>
<g id="R17"><ellipse class="e" cx="290" cy="1251" rx="11" ry="4.5"/><text class="t" x="290" y="1250.4"><tspan class="b">getattr.33</tspan><tspan x="290" dy="3">(64,)</tspan></text></g>
<g id="R18"><rect class="wb" x="280" y="1262" width="21" height="12" rx="1.5"/><text class="t" x="290.5" y="1265.9"><tspan class="b">Buffer 1</tspan><tspan x="290.5" dy="3">(64,)</tspan><tspan x="290.5" dy="3">rotary_emb.inv_freq</tspan></text></g>
<g id="U1"><ellipse class="e" cx="233" cy="1234" rx="12" ry="4.5"/><text class="t" x="233" y="1233.4"><tspan class="b">unsqueeze.3</tspan><tspan x="233" dy="3">(1, 16)</tspan></text></g>
<g id="U2"><ellipse class="e" cx="233" cy="1250" rx="10" ry="4.5"/><text class="t" x="233" y="1249.4"><tspan class="b">arange.2</tspan><tspan x="233" dy="3">(16,)</tspan></text></g>
</svg>
